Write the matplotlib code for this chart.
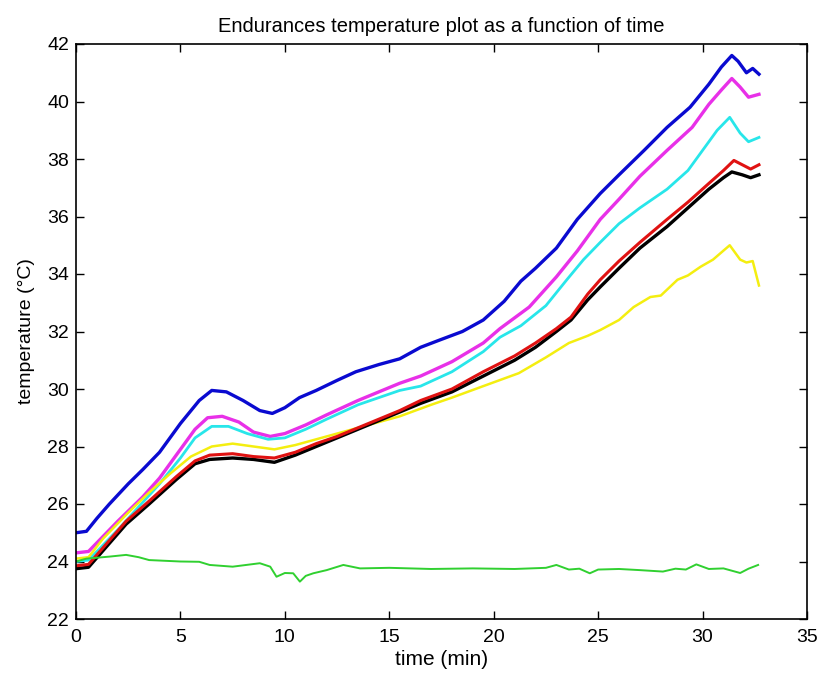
import matplotlib
matplotlib.use("Agg")
import matplotlib.pyplot as plt

# ---- data (time in min, temperature in degC) ----
blue_t = [0, 0.5, 1.0, 1.6, 2.5, 3.2, 4.0, 5.0, 5.9, 6.5, 7.2, 8.0, 8.8, 9.4, 10.0, 10.7, 11.5, 12.5,
          13.4, 14.5, 15.5, 16.5, 17.4, 18.5, 19.5, 20.5, 21.3, 22.0, 23.0, 24.0, 25.1, 26.0, 27.2,
          28.3, 29.4, 30.3, 30.9, 31.4, 31.7, 32.1, 32.4, 32.7]
blue_v = [25.0, 25.05, 25.5, 26.0, 26.7, 27.2, 27.8, 28.8, 29.6, 29.95, 29.9, 29.6, 29.25, 29.15,
          29.35, 29.7, 29.95, 30.3, 30.6, 30.85, 31.05, 31.45, 31.7, 32.0, 32.4, 33.05, 33.75, 34.2,
          34.9, 35.9, 36.8, 37.45, 38.3, 39.1, 39.8, 40.6, 41.2, 41.6, 41.4, 41.0, 41.15, 40.95]

magenta_t = [0, 0.6, 1.2, 2.0, 3.2, 4.0, 5.0, 5.7, 6.3, 7.0, 7.8, 8.5, 9.3, 10.0, 11.0, 12.0, 13.5,
             15.5, 16.5, 18.0, 19.5, 20.3, 21.7, 23.0, 24.0, 25.1, 26.0, 27.0, 28.3, 29.5, 30.3,
             30.9, 31.4, 31.8, 32.2, 32.7]
magenta_v = [24.3, 24.35, 24.8, 25.4, 26.25, 26.9, 27.9, 28.6, 29.0, 29.05, 28.85, 28.5, 28.35,
             28.45, 28.75, 29.1, 29.6, 30.2, 30.45, 30.95, 31.6, 32.1, 32.85, 33.9, 34.8, 35.9,
             36.6, 37.4, 38.3, 39.1, 39.9, 40.4, 40.8, 40.5, 40.15, 40.25]

cyan_t = [0, 0.6, 1.2, 2.0, 3.0, 4.0, 5.0, 5.7, 6.5, 7.3, 8.2, 9.2, 10.0, 11.0, 12.0, 13.5, 15.5,
          16.5, 18.0, 19.5, 20.3, 21.3, 22.5, 23.5, 24.3, 25.1, 26.0, 27.0, 28.3, 29.3, 30.0,
          30.7, 31.3, 31.8, 32.2, 32.7]
cyan_v = [24.0, 24.05, 24.5, 25.1, 25.9, 26.7, 27.6, 28.3, 28.7, 28.7, 28.45, 28.25, 28.3, 28.6,
          28.95, 29.45, 29.95, 30.1, 30.6, 31.3, 31.8, 32.2, 32.9, 33.8, 34.5, 35.1, 35.75, 36.3,
          36.95, 37.6, 38.3, 39.0, 39.45, 38.9, 38.6, 38.75]

yellow_t = [0, 0.6, 1.3, 2.5, 3.5, 4.5, 5.5, 6.5, 7.5, 8.5, 9.5, 10.5, 11.5, 12.5, 14.0, 15.5, 17.0,
            18.0, 19.5, 21.2, 22.5, 23.6, 24.5, 25.1, 26.0, 26.7, 27.5, 28.0, 28.8, 29.3, 29.9,
            30.5, 31.3, 31.8, 32.1, 32.4, 32.7]
yellow_v = [24.1, 24.15, 24.8, 25.7, 26.4, 27.05, 27.65, 28.0, 28.1, 28.0, 27.9, 28.05, 28.25, 28.45,
            28.75, 29.05, 29.45, 29.7, 30.1, 30.55, 31.1, 31.6, 31.85, 32.05, 32.4, 32.85, 33.2,
            33.25, 33.8, 33.95, 34.25, 34.5, 35.0, 34.5, 34.4, 34.45, 33.6]

black_t = [0, 0.6, 1.2, 2.4, 3.5, 4.8, 5.7, 6.4, 7.5, 8.5, 9.5, 10.5, 11.5, 12.5, 14.0, 15.5, 16.5,
           18.0, 19.5, 21.0, 22.0, 23.0, 23.7, 24.5, 25.1, 26.0, 27.0, 28.3, 29.3, 30.3, 31.0,
           31.4, 31.9, 32.3, 32.7]
black_v = [23.75, 23.8, 24.3, 25.3, 26.0, 26.85, 27.4, 27.55, 27.6, 27.55, 27.45, 27.7, 28.0, 28.3,
           28.75, 29.2, 29.5, 29.9, 30.45, 31.0, 31.45, 32.0, 32.4, 33.1, 33.55, 34.2, 34.9, 35.65,
           36.3, 36.95, 37.35, 37.55, 37.45, 37.35, 37.45]

red_t = [0, 0.6, 1.2, 2.4, 3.5, 4.8, 5.7, 6.4, 7.5, 8.5, 9.5, 10.5, 11.5, 12.5, 14.0, 15.5, 16.5,
         18.0, 19.5, 21.0, 22.0, 23.0, 23.7, 24.5, 25.1, 26.0, 27.0, 28.3, 29.3, 30.3, 31.0, 31.5,
         31.9, 32.3, 32.7]
red_v = [23.85, 23.9, 24.4, 25.4, 26.1, 26.95, 27.5, 27.7, 27.75, 27.65, 27.6, 27.8, 28.1, 28.35,
         28.8, 29.25, 29.6, 30.0, 30.6, 31.15, 31.6, 32.1, 32.5, 33.3, 33.8, 34.45, 35.1, 35.9,
         36.5, 37.15, 37.6, 37.95, 37.8, 37.65, 37.8]

green_t = [0, 0.5, 1.6, 2.4, 3.0, 3.5, 5.0, 5.9, 6.4, 7.5, 8.8, 9.3, 9.6, 10.0, 10.4, 10.72, 11.0,
           11.36, 12.0, 12.8, 13.6, 15.0, 17.0, 19.0, 21.0, 22.5, 23.0, 23.6, 24.1, 24.6, 25.0,
           26.0, 27.0, 28.1, 28.7, 29.2, 29.7, 30.3, 31.0, 31.8, 32.2, 32.66]
green_v = [24.0, 24.1, 24.17, 24.23, 24.15, 24.05, 24.0, 23.99, 23.88, 23.82, 23.94, 23.82, 23.47,
           23.6, 23.59, 23.3, 23.5, 23.59, 23.7, 23.88, 23.76, 23.78, 23.74, 23.76, 23.74, 23.78,
           23.88, 23.72, 23.75, 23.59, 23.72, 23.74, 23.7, 23.65, 23.75, 23.72, 23.9, 23.74, 23.76,
           23.6, 23.75, 23.88]

x_ticks = [0, 5, 10, 15, 20, 25, 30, 35]
y_ticks = [22, 24, 26, 28, 30, 32, 34, 36, 38, 40, 42]

plt.rcParams['font.family'] = ['Liberation Sans', 'DejaVu Sans']

fig = plt.figure(figsize=(8.2, 6.82), dpi=100)
ax = fig.add_axes([76/820, 63/682, 731/820, 575/682])

ax.plot(blue_t, blue_v, color='#0a0ad0', lw=2.4)
ax.plot(magenta_t, magenta_v, color='#e830e8', lw=2.4)
ax.plot(cyan_t, cyan_v, color='#28e6ea', lw=2.0)
ax.plot(yellow_t, yellow_v, color='#f4ee10', lw=1.8)
ax.plot(black_t, black_v, color='#000000', lw=2.4)
ax.plot(red_t, red_v, color='#e01212', lw=2.2)
ax.plot(green_t, green_v, color='#30d030', lw=1.4)

ax.set_xlim(0, 35)
ax.set_ylim(22, 42)
ax.set_xticks(x_ticks)
ax.set_yticks(y_ticks)
ax.tick_params(direction='in', length=6, width=1, top=True, right=True, labelsize=14)
ax.tick_params(axis='x', pad=7)
ax.tick_params(axis='y', pad=5)
for s in ax.spines.values():
    s.set_linewidth(1.2)

ax.set_title('Endurances temperature plot as a function of time', fontsize=14.5, pad=9)
ax.set_xlabel('time (min)', fontsize=15, labelpad=3)
ax.set_ylabel('temperature (\u00b0C)', fontsize=14, labelpad=9)

fig.savefig('out.png', dpi=100)
